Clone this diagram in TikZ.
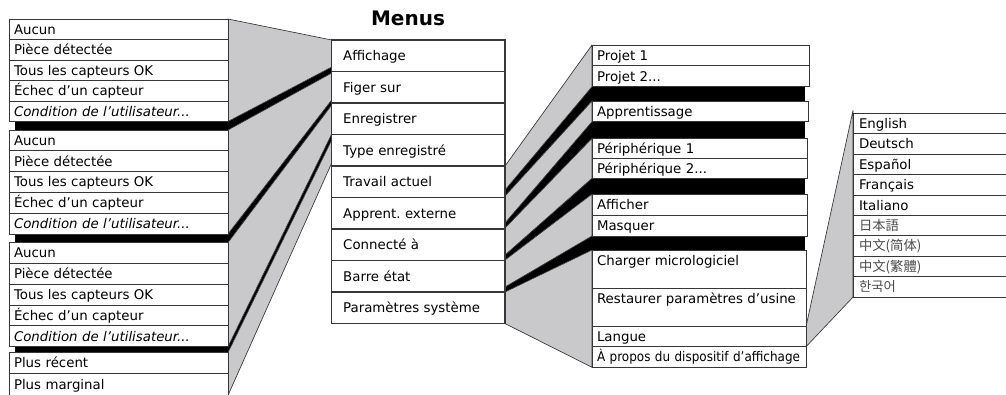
\documentclass[tikz,border=0pt]{standalone}
\usepackage{fontspec}
\setmainfont{DejaVu Sans}
\newfontfamily\condfont{DejaVu Sans}[FakeStretch=0.9]
\newfontfamily\jpfont{Noto Sans CJK JP}
\newfontfamily\scfont{Noto Sans CJK SC}
\newfontfamily\tcfont{Noto Sans CJK TC}
\newfontfamily\krfont{Noto Sans CJK KR}
\usetikzlibrary{calc}
\frenchspacing
\pgfdeclarelayer{shadowlayer}
\pgfdeclarelayer{calloutlayer}
\pgfsetlayers{shadowlayer,calloutlayer,main}
\definecolor{callgray}{RGB}{201,201,203}
\definecolor{boxline}{RGB}{55,55,55}
\tikzset{
  rowbox/.style={draw=boxline, line width=0.75pt, fill=white, rectangle,
    inner ysep=0pt, outer sep=0pt, align=left, anchor=north west,
    font=\fontsize{10pt}{12pt}\selectfont, text height=7.3pt, text depth=0pt},
  menubox/.style={rowbox, line width=1pt},
  cjk/.style={text=black!70},
  callout/.style={fill=callgray, draw=boxline, line width=0.5pt, line join=round},
  shadow/.style={fill=black, draw=none},
}
\def\rbpad{5}
% #1 options, #2 name, #3 x, #4 y, #5 width, #6 height, #7 text
\newcommand\rowb[7][]{%
  \pgfmathsetmacro\rbw{#5*0.75}%
  \pgfmathsetmacro\rbh{#6*0.75}%
  \pgfmathsetmacro\rbt{(#5-2*\rbpad)*0.75}%
  \pgfmathsetmacro\rbp{\rbpad*0.75}%
  \node[rowbox, minimum width=\rbw pt, minimum height=\rbh pt,
        text width=\rbt pt, inner xsep=\rbp pt, #1] (#2) at (#3,#4) {#7};}
\begin{document}
\begin{tikzpicture}[x=0.75pt, y=-0.75pt]
\useasboundingbox (0,0) rectangle (1006,394);

\node[font=\bfseries\fontsize{15pt}{18pt}\selectfont, anchor=base] (title) at (408,25) {Menus};

% ---------- left groups ----------
\def\rbpad{5}
\rowb{a1}{9}{19}{219}{20.5}{Aucun}
\rowb{a2}{9}{39.5}{219}{20.5}{Pièce détectée}
\rowb{a3}{9}{60}{219}{20.5}{Tous les capteurs OK}
\rowb{a4}{9}{80.5}{219}{20.5}{Échec d’un capteur}
\rowb{a5}{9}{101}{219}{20.5}{\itshape Condition de l’utilisateur...}

\rowb{b1}{9}{130}{219}{20.8}{Aucun}
\rowb{b2}{9}{150.8}{219}{20.8}{Pièce détectée}
\rowb{b3}{9}{171.6}{219}{20.8}{Tous les capteurs OK}
\rowb{b4}{9}{192.4}{219}{20.8}{Échec d’un capteur}
\rowb{b5}{9}{213.2}{219}{20.8}{\itshape Condition de l’utilisateur...}

\rowb{c1}{9}{242.5}{219}{20.84}{Aucun}
\rowb{c2}{9}{263.34}{219}{20.84}{Pièce détectée}
\rowb{c3}{9}{284.18}{219}{20.84}{Tous les capteurs OK}
\rowb{c4}{9}{305.02}{219}{20.84}{Échec d’un capteur}
\rowb{c5}{9}{325.86}{219}{20.84}{\itshape Condition de l’utilisateur...}

\rowb{d1}{9}{352.5}{219}{20.8}{Plus récent}
\rowb{d2}{9}{373.3}{219}{22}{Plus marginal}

% ---------- menu ----------
\def\rbpad{11.5}
\rowb[menubox]{m1}{331.7}{40}{173.3}{31.5}{Affichage}
\rowb[menubox]{m2}{331.7}{71.5}{173.3}{31.5}{Figer sur}
\rowb[menubox]{m3}{331.7}{103}{173.3}{31.5}{Enregistrer}
\rowb[menubox]{m4}{331.7}{134.5}{173.3}{31.5}{Type enregistré}
\rowb[menubox]{m5}{331.7}{166}{173.3}{31.5}{Travail actuel}
\rowb[menubox]{m6}{331.7}{197.5}{173.3}{31.5}{Apprent. externe}
\rowb[menubox]{m7}{331.7}{229}{173.3}{31.5}{Connecté à}
\rowb[menubox]{m8}{331.7}{260.5}{173.3}{31.5}{Barre état}
\rowb[menubox]{m9}{331.7}{292}{173.3}{31.5}{Paramètres système}

% ---------- right column ----------
\def\rbpad{5}
\rowb{p1}{592}{45}{217}{20.85}{Projet 1}
\rowb{p2}{592}{65.85}{217}{20.85}{Projet 2...}
\rowb{ap}{592}{101}{216}{20.7}{Apprentissage}
\rowb{q1}{592}{138.3}{215}{20}{Périphérique 1}
\rowb{q2}{592}{158.3}{215}{20}{Périphérique 2...}
\rowb{s1}{592}{194}{215}{21}{Afficher}
\rowb{s2}{592}{215}{215}{21}{Masquer}
\rowb[text depth=13.3pt]{t1}{592}{250}{214}{38.3}{Charger micrologiciel}
\rowb[text depth=13.3pt]{t2}{592}{288.3}{214}{38.4}{Restaurer paramètres d’usine}
\rowb{t3}{592}{326.7}{214}{20}{Langue}
\rowb{t4}{592}{346.7}{214}{20.6}{{\condfont À propos du dispositif d’affichage}}

% ---------- languages ----------
\def\rbpad{6}
\rowb{l1}{853}{113.5}{160}{20.4}{English}
\rowb{l2}{853}{133.9}{160}{20.4}{Deutsch}
\rowb{l3}{853}{154.3}{160}{20.4}{Español}
\rowb{l4}{853}{174.7}{160}{20.4}{Français}
\rowb{l5}{853}{195.1}{160}{20.4}{Italiano}
\rowb[cjk]{l6}{853}{215.5}{160}{20.4}{\jpfont 日本語}
\rowb[cjk]{l7}{853}{235.9}{160}{20.4}{\scfont 中文(简体)}
\rowb[cjk]{l8}{853}{256.3}{160}{20.4}{\tcfont 中文(繁體)}
\rowb[cjk]{l9}{853}{276.7}{160}{20.4}{\krfont 한국어}

% ---------- shadows ----------
\begin{pgfonlayer}{shadowlayer}
  \fill[shadow] ($(a5.south west)+(6,0)$) rectangle (b1.north east);
  \fill[shadow] ($(b5.south west)+(6,0)$) rectangle (c1.north east);
  \fill[shadow] ($(c5.south west)+(6,0)$) rectangle (d1.north east);
  \fill[shadow] (p2.south west) rectangle ($(ap.north east)+(-3,0)$);
  \fill[shadow] (ap.south west) rectangle ($(q1.north east)+(-2,0)$);
  \fill[shadow] (q2.south west) rectangle ($(s1.north east)+(-2,0)$);
  \fill[shadow] (s2.south west) rectangle ($(t1.north east)+(-1,0)$);
  \fill[shadow] (a5.south east) -- ($(m1.south west)+(0,-4.5)$)
     -- ($(m4.north west)+(0,5.5)$) -- (d1.north east) -- cycle;
  \fill[shadow] ($(m5.south east)+(0,-7.5)$) -- (p2.south west)
     -- (t1.north west) -- (m9.north east) -- cycle;
\end{pgfonlayer}

% ---------- callouts ----------
\begin{pgfonlayer}{calloutlayer}
  \filldraw[callout] (a1.north east) -- (m1.north west)
     -- ($(m1.south west)+(0,-4.5)$) -- (a5.south east) -- cycle;
  \filldraw[callout] (b1.north east) -- ($(m2.north west)+(0,1.5)$)
     -- ($(m2.south west)+(0,-3)$) -- (b5.south east) -- cycle;
  \filldraw[callout] (c1.north east) -- ($(m3.north west)+(0,2)$)
     -- ($(m3.south west)+(0,-0.5)$) -- (c5.south east) -- cycle;
  \filldraw[callout] (d1.north east) -- ($(m4.north west)+(0,5.5)$)
     -- ($(m4.south west)+(0,-3)$) -- (d2.south east) -- cycle;

  \filldraw[callout] (m5.north east) -- (p1.north west)
     -- (p2.south west) -- ($(m5.south east)+(0,-7.5)$) -- cycle;
  \filldraw[callout] ($(m6.north east)+(0,-1.5)$) -- (ap.north west)
     -- (ap.south west) -- ($(m6.south east)+(0,-6)$) -- cycle;
  \filldraw[callout] ($(m7.north east)+(0,-1)$) -- (q1.north west)
     -- (q2.south west) -- ($(m7.south east)+(0,-5.5)$) -- cycle;
  \filldraw[callout] ($(m8.north east)+(0,-0.5)$) -- (s1.north west)
     -- (s2.south west) -- ($(m8.south east)+(0,-5)$) -- cycle;
  \filldraw[callout] (m9.north east) -- (t1.north west)
     -- (t4.south west) -- (m9.south east) -- cycle;

  \filldraw[callout] (t3.north east) -- ($(l1.north west)+(0,-3)$)
     -- (l9.south west) -- (t3.south east) -- cycle;
\end{pgfonlayer}
\end{tikzpicture}
\end{document}
